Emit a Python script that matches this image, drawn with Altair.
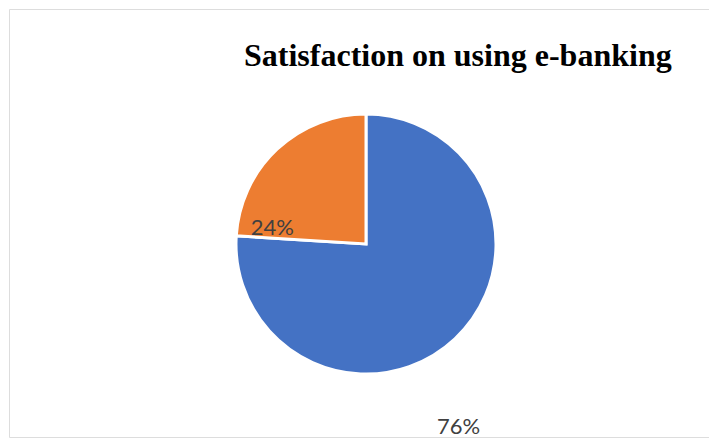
import altair as alt
import pandas as pd

# Data
categories = ["Satisfied", "Not satisfied"]
values = [76, 24]
order = [1, 2]
colors = ["#4472C4", "#ED7D31"]

df = pd.DataFrame({"category": categories, "value": values, "order": order})

CX, CY = 357, 235  # pie centre inside the plot frame

pie = alt.Chart(df).mark_arc(
    outerRadius=130, stroke="white", strokeWidth=3
).encode(
    theta=alt.Theta("value:Q", stack=True),
    order=alt.Order("order:Q"),
    color=alt.Color("category:N", scale=alt.Scale(domain=categories, range=colors), legend=None),
    x=alt.value(CX),
    y=alt.value(CY),
)

# label placement (Excel-like positions): angle offset (rad) and distance from centre (px)
labels = alt.Chart(df).transform_joinaggregate(
    total="sum(value)"
).transform_window(
    cum="sum(value)", sort=[alt.SortField("order")], frame=[None, 0]
).transform_calculate(
    mid="(datum.cum - datum.value / 2) / datum.total * 2 * PI",
    ang="datum.mid + (datum.category == 'Satisfied' ? 0.286 : -0.648)",
    rad="datum.category == 'Satisfied' ? 205 : 95",
    label="format(datum.value / datum.total, '.0%')",
).mark_text(
    font="Lato", fontSize=22, color="#404040", align="center", baseline="middle"
).encode(
    theta=alt.Theta("ang:Q", scale=None, stack=None),
    radius=alt.Radius("rad:Q", scale=None),
    text="label:N",
    x=alt.value(CX),
    y=alt.value(CY),
)

chart = alt.layer(pie, labels).properties(
    width=700,
    height=428,
    padding={"left": 9, "top": 9, "right": 0, "bottom": 1},
    autosize=alt.AutoSizeParams(type="none"),
    title=alt.TitleParams(
        text="Satisfaction on using e-banking",
        font="Liberation Serif",
        fontSize=32,
        fontWeight="bold",
        color="black",
        anchor="start",
        frame="group",
        orient="top",
        offset=0,
        baseline="alphabetic",
        dx=235,
        dy=89,
    ),
).configure_view(
    stroke="#d9d9d9", strokeWidth=2
).configure(background="white")

chart.save("out.html", embed_options={"renderer": "svg", "actions": False})
